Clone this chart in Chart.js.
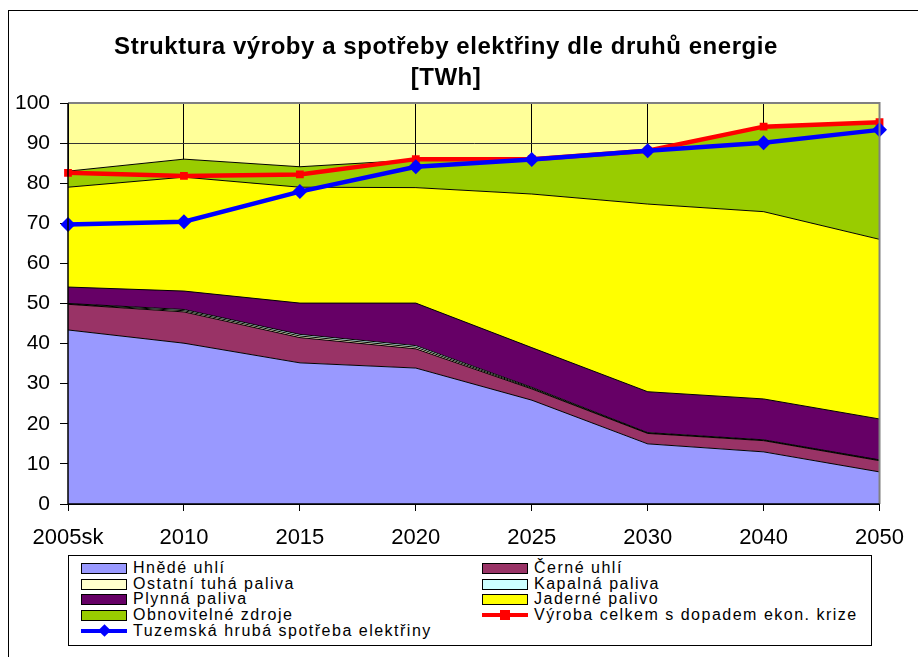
<!DOCTYPE html>
<html>
<head>
<meta charset="utf-8">
<script src="https://cdn.jsdelivr.net/npm/chart.js@4.4.1/dist/chart.umd.min.js"></script>
<style>
  html, body { margin: 0; padding: 0; background: #fff; }
  #wrap { position: relative; width: 918px; height: 657px; overflow: hidden; font-family: "Liberation Sans", Arial, sans-serif; }
  #frame { position: absolute; left: 8px; top: 10px; width: 1000px; height: 700px; border-left: 1px solid #000; border-top: 1px solid #000; }
  #c { position: absolute; left: 0; top: 0; }
  #title { position: absolute; left: 46px; width: 800px; top: 30px; text-align: center; font-weight: bold; font-size: 24px; line-height: 31px; letter-spacing: 0.55px; color: #000; }
  #legend { position: absolute; left: 68px; top: 555px; width: 804px; height: 91px; border: 1px solid #000; background: #fff; box-sizing: border-box; }
  .item { position: absolute; height: 16px; font-size: 16px; line-height: 16px; letter-spacing: 1.5px; color: #000; white-space: nowrap; }
  .sw { position: absolute; left: 0; top: 3px; width: 44px; height: 9px; border: 1px solid #000; box-sizing: content-box; }
  .ln { position: absolute; left: 0; top: 6px; width: 46px; height: 4px; }
  .mk { position: absolute; }
  .txt { position: absolute; left: 52px; top: 0; }
</style>
</head>
<body>
<div id="wrap">
  <div id="frame"></div>
  <canvas id="c" width="918" height="560"></canvas>
  <div id="title">Struktura výroby a spotřeby elektřiny dle druhů energie<br>[TWh]</div>
  <div id="legend"></div>
</div>
<script>
const categories = ['2005sk', '2010', '2015', '2020', '2025', '2030', '2040', '2050'];
const hnedeUhli   = [43.4, 40.1, 35.2, 33.9, 25.9, 15.0, 13.0, 8.0];
const cerneUhli   = [6.4, 7.8, 6.3, 4.8, 2.8, 2.6, 2.8, 2.8];
const ostatniTuha = [0.1, 0.3, 0.4, 0.4, 0.2, 0.1, 0.1, 0.1];
const kapalna     = [0.1, 0.3, 0.4, 0.4, 0.2, 0.1, 0.1, 0.1];
const plynna      = [4.1, 4.6, 7.8, 10.6, 9.9, 10.2, 10.2, 10.2];
const jaderne     = [24.9, 28.4, 28.9, 28.8, 38.3, 46.8, 46.7, 44.8];
const obnovitelne = [4.0, 4.5, 5.1, 6.9, 8.7, 13.4, 21.1, 29.0];
const vyrobaCelkem = [82.6, 81.8, 82.2, 86.0, 86.0, 88.1, 94.1, 95.2];
const spotreba     = [69.7, 70.4, 77.9, 84.1, 85.9, 88.1, 90.1, 93.3];
const yTicks = [0, 10, 20, 30, 40, 50, 60, 70, 80, 90, 100];

const areaDefs = [
  { label: 'Hnědé uhlí', data: hnedeUhli, color: '#9999FF' },
  { label: 'Černé uhlí', data: cerneUhli, color: '#993366' },
  { label: 'Ostatní tuhá paliva', data: ostatniTuha, color: '#FFFFCC' },
  { label: 'Kapalná paliva', data: kapalna, color: '#CCFFFF' },
  { label: 'Plynná paliva', data: plynna, color: '#660066' },
  { label: 'Jaderné palivo', data: jaderne, color: '#FFFF00' },
  { label: 'Obnovitelné zdroje', data: obnovitelne, color: '#99CC00' }
];

const datasets = areaDefs.map((d, i) => ({
  type: 'line',
  label: d.label,
  data: d.data,
  backgroundColor: d.color,
  borderColor: '#000',
  borderWidth: 1,
  fill: i === 0 ? 'origin' : '-1',
  pointRadius: 0,
  tension: 0,
  stack: 'areas',
  order: 0
}));

datasets.push({
  type: 'line',
  label: 'Výroba celkem s dopadem ekon. krize',
  data: vyrobaCelkem,
  borderColor: '#FF0000',
  backgroundColor: '#FF0000',
  borderWidth: 4.5,
  fill: false,
  pointStyle: 'rect',
  pointRadius: 5.5,
  pointBorderWidth: 0,
  tension: 0,
  stack: 'red',
  order: -1
});
datasets.push({
  type: 'line',
  label: 'Tuzemská hrubá spotřeba elektřiny',
  data: spotreba,
  borderColor: '#0000FF',
  backgroundColor: '#0000FF',
  borderWidth: 4.5,
  fill: false,
  pointStyle: 'rectRot',
  pointRadius: 7.5,
  pointBorderWidth: 0,
  tension: 0,
  stack: 'blue',
  order: -2
});

const plotBg = {
  id: 'plotBg',
  beforeDraw(chart) {
    const { ctx, chartArea: a } = chart;
    ctx.save();
    ctx.fillStyle = '#FFFF99';
    ctx.fillRect(a.left, a.top, a.right - a.left, a.bottom - a.top);
    ctx.restore();
  },
  afterDraw(chart) {
    const { ctx, chartArea: a } = chart;
    ctx.save();
    ctx.strokeStyle = '#808080';
    ctx.lineWidth = 2;
    ctx.beginPath();
    ctx.moveTo(a.left, a.top);
    ctx.lineTo(a.right, a.top);
    ctx.lineTo(a.right, a.bottom);
    ctx.stroke();
    ctx.strokeStyle = '#000';
    ctx.lineWidth = 1.5;
    ctx.beginPath();
    ctx.moveTo(a.left, a.top);
    ctx.lineTo(a.left, a.bottom);
    ctx.lineTo(a.right, a.bottom);
    ctx.stroke();
    ctx.restore();
  }
};

const FONT = '"Liberation Sans", Arial, sans-serif';

new Chart(document.getElementById('c'), {
  type: 'line',
  data: { labels: categories, datasets },
  plugins: [plotBg],
  options: {
    responsive: false,
    animation: false,
    layout: { padding: { top: 103, right: 36, bottom: 8, left: 0 } },
    plugins: {
      legend: { display: false },
      tooltip: { enabled: false },
      title: { display: false },
      filler: { propagate: false }
    },
    scales: {
      x: {
        offset: false,
        grid: {
          color: (c) => c.index === categories.length - 1 ? '#808080' : '#000',
          tickColor: '#000',
          tickLength: 7,
          drawOnChartArea: true
        },
        border: { color: '#000', width: 1 },
        ticks: { color: '#000', font: { family: FONT, size: 22 }, padding: 14, maxRotation: 0, autoSkip: false },
        afterFit(scale) { scale.height = 48; }
      },
      y: {
        stacked: true,
        min: 0,
        max: 100,
        afterBuildTicks(scale) { scale.ticks = yTicks.map(v => ({ value: v })); },
        grid: {
          color: (c) => c.tick && c.tick.value === 100 ? '#808080' : '#333',
          tickColor: '#000',
          tickLength: 8
        },
        border: { color: '#000', width: 1 },
        ticks: { color: '#000', font: { family: FONT, size: 21 }, padding: 10 },
        afterFit(scale) { scale.width = 68; }
      }
    }
  }
});

// HTML legend
const legendItems = [
  { label: 'Hnědé uhlí', color: '#9999FF', col: 0, row: 0 },
  { label: 'Černé uhlí', color: '#993366', col: 1, row: 0 },
  { label: 'Ostatní tuhá paliva', color: '#FFFFCC', col: 0, row: 1 },
  { label: 'Kapalná paliva', color: '#CCFFFF', col: 1, row: 1 },
  { label: 'Plynná paliva', color: '#660066', col: 0, row: 2 },
  { label: 'Jaderné palivo', color: '#FFFF00', col: 1, row: 2 },
  { label: 'Obnovitelné zdroje', color: '#99CC00', col: 0, row: 3 },
  { label: 'Výroba celkem s dopadem ekon. krize', line: '#FF0000', marker: 'rect', col: 1, row: 3 },
  { label: 'Tuzemská hrubá spotřeba elektřiny', line: '#0000FF', marker: 'diamond', col: 0, row: 4 }
];
const lg = document.getElementById('legend');
legendItems.forEach(it => {
  const el = document.createElement('div');
  el.className = 'item';
  el.style.left = (it.col === 0 ? 12 : 413) + 'px';
  el.style.top = (4 + it.row * 15.7) + 'px';
  if (it.line) {
    const ln = document.createElement('div');
    ln.className = 'ln';
    ln.style.background = it.line;
    el.appendChild(ln);
    const mk = document.createElement('div');
    mk.className = 'mk';
    mk.style.background = it.line;
    if (it.marker === 'rect') {
      mk.style.left = '18px'; mk.style.top = '3px'; mk.style.width = '10px'; mk.style.height = '10px';
    } else {
      mk.style.left = '19px'; mk.style.top = '3px'; mk.style.width = '9px'; mk.style.height = '9px';
      mk.style.transform = 'rotate(45deg)';
    }
    el.appendChild(mk);
  } else {
    const sw = document.createElement('div');
    sw.className = 'sw';
    sw.style.background = it.color;
    el.appendChild(sw);
  }
  const t = document.createElement('span');
  t.className = 'txt';
  t.textContent = it.label;
  el.appendChild(t);
  lg.appendChild(el);
});
</script>
</body>
</html>
